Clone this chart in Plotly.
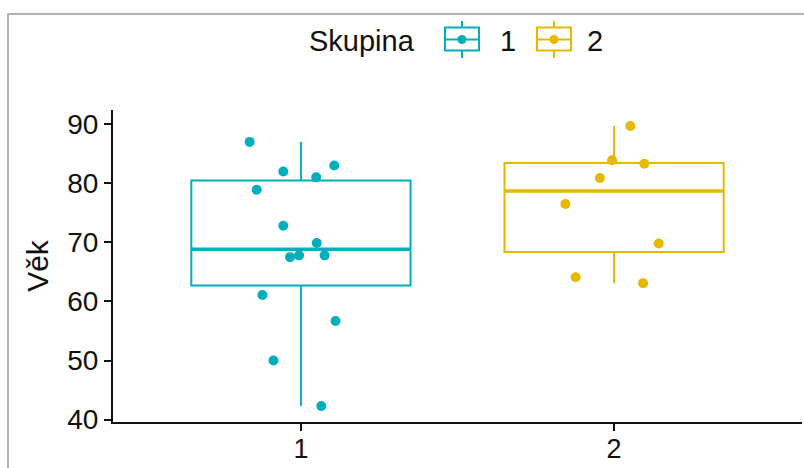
import numpy as np
import plotly.graph_objects as go

# ---- data -------------------------------------------------------------
groups = ["1", "2"]
ages_1 = [87.0, 82.0, 83.0, 81.0, 78.9, 72.8, 69.9, 67.8, 67.8, 67.5,
          61.1, 56.7, 50.0, 42.3]
ages_2 = [89.7, 83.3, 83.9, 80.9, 76.5, 69.8, 64.1, 63.1]
y_ticks = [40, 50, 60, 70, 80, 90]
legend_title = "Skupina"
y_title = "Věk"

# ---- style ------------------------------------------------------------
colors = ["#00AFBB", "#E7B800"]
ink = "#111111"
font_family = "Liberation Sans, Arial, sans-serif"
W, H = 804, 468
M = dict(l=113, r=2, t=110, b=46)
BOX_W = 0.7


def box_stats(values):
    v = np.asarray(values, dtype=float)
    q1, med, q3 = np.percentile(v, [25, 50, 75])
    iqr = q3 - q1
    lo = v[v >= q1 - 1.5 * iqr].min()
    hi = v[v <= q3 + 1.5 * iqr].max()
    return q1, med, q3, lo, hi


fig = go.Figure()
for i, (name, vals, col) in enumerate(zip(groups, [ages_1, ages_2], colors)):
    pos = i + 1
    q1, med, q3, lo, hi = box_stats(vals)
    # box + whiskers (Tukey style, quartiles as in R type 7)
    fig.add_trace(go.Box(
        x=[pos], q1=[q1], median=[med], q3=[q3],
        lowerfence=[lo], upperfence=[hi],
        width=BOX_W, fillcolor="white", whiskerwidth=0,
        line=dict(color=col, width=2), boxpoints=False,
        name=name, showlegend=False, hoverinfo="skip"))
    # heavier median bar
    fig.add_trace(go.Scatter(
        x=[pos - BOX_W / 2, pos + BOX_W / 2], y=[med, med], mode="lines",
        line=dict(color=col, width=3.5), showlegend=False, hoverinfo="skip"))
    # jittered raw observations
    fig.add_trace(go.Box(
        x=[pos] * len(vals), y=vals, width=BOX_W,
        boxpoints="all", jitter=0.55, pointpos=0,
        marker=dict(color=col, size=10),
        line=dict(width=0, color="rgba(0,0,0,0)"),
        fillcolor="rgba(0,0,0,0)", name=name, showlegend=False))

# ---- hand-drawn legend in the top band -----------------------------------
pw = W - M["l"] - M["r"]
ph = H - M["t"] - M["b"]


def px(x):
    return (x - M["l"]) / pw


def py(y):
    return (H - M["b"] - y) / ph


legend_font = dict(family=font_family, size=29, color=ink)
shapes = [
    # outer frame
    dict(type="rect", xref="paper", yref="paper",
         x0=px(8), x1=px(W + 60), y0=py(14), y1=py(H + 60),
         line=dict(color="#b3b3b3", width=2), layer="below"),
]
annotations = [
    dict(text=legend_title, x=px(307), y=py(41), xref="paper", yref="paper",
         xanchor="left", yanchor="middle", showarrow=False, font=legend_font),
]
key_centers = [462, 554]
label_left = [498, 585]
for name, col, cx, lx in zip(groups, colors, key_centers, label_left):
    shapes += [
        dict(type="rect", xref="paper", yref="paper",
             x0=px(cx - 17), x1=px(cx + 17), y0=py(27.5), y1=py(50.5),
             line=dict(color=col, width=2), fillcolor="white"),
        dict(type="line", xref="paper", yref="paper",
             x0=px(cx), x1=px(cx), y0=py(21), y1=py(27.5),
             line=dict(color=col, width=2)),
        dict(type="line", xref="paper", yref="paper",
             x0=px(cx), x1=px(cx), y0=py(50.5), y1=py(58),
             line=dict(color=col, width=2)),
        dict(type="line", xref="paper", yref="paper",
             x0=px(cx - 17), x1=px(cx + 17), y0=py(39.5), y1=py(39.5),
             line=dict(color=col, width=2)),
        dict(type="circle", xref="paper", yref="paper",
             x0=px(cx - 4.5), x1=px(cx + 4.5), y0=py(35), y1=py(44),
             line=dict(color=col, width=0), fillcolor=col),
    ]
    annotations.append(dict(
        text=name, x=px(lx), y=py(41), xref="paper", yref="paper",
        xanchor="left", yanchor="middle", showarrow=False, font=legend_font))

axis_common = dict(
    showline=True, linecolor=ink, linewidth=2, mirror=False,
    ticks="outside", ticklen=7, tickwidth=2, tickcolor=ink,
    showgrid=False, zeroline=False, automargin=False,
)

fig.update_layout(
    width=W, height=H, margin=M,
    paper_bgcolor="white", plot_bgcolor="white",
    boxmode="overlay", showlegend=False,
    shapes=shapes, annotations=annotations,
    xaxis=dict(range=[0.4, 2.6], tickmode="array", tickvals=[1, 2],
               ticktext=groups, ticklabelstandoff=-5,
               tickfont=dict(family=font_family, size=27, color=ink),
               **axis_common),
    yaxis=dict(range=[39.6, 92.4], tickmode="array", tickvals=y_ticks,
               tickfont=dict(family=font_family, size=28, color=ink),
               title=dict(text=y_title, standoff=10,
                          font=dict(family=font_family, size=30, color=ink)),
               **axis_common),
)

fig.write_html("out.html")
